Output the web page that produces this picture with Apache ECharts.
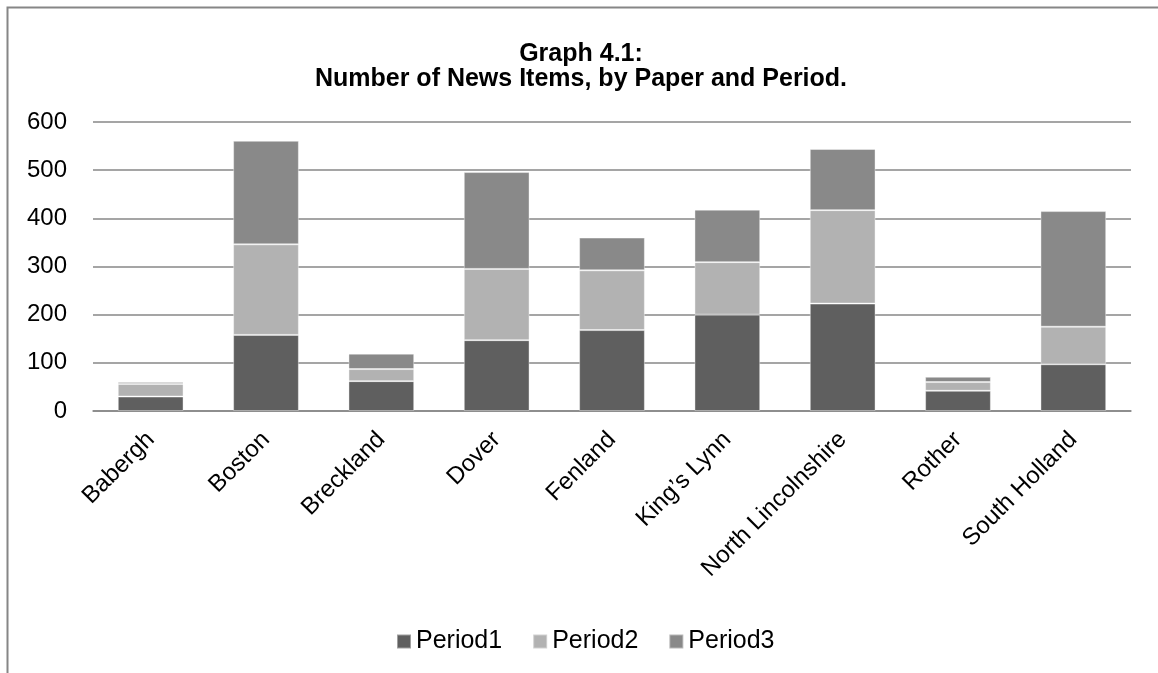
<!DOCTYPE html>
<html>
<head>
<meta charset="utf-8">
<title>Graph 4.1</title>
<script src="https://cdn.jsdelivr.net/npm/echarts@6/dist/echarts.min.js"></script>
<style>
  html, body { margin: 0; padding: 0; background: #ffffff; }
  #chart { width: 1158px; height: 673px; }
</style>
</head>
<body>
<div id="chart"></div>
<script>
// Papers along the x axis
const papers = ['Babergh', 'Boston', 'Breckland', 'Dover', 'Fenland', 'King\u2019s Lynn', 'North Lincolnshire', 'Rother', 'South Holland'];

// News items per paper, one array per period (stacked)
const period1 = [30, 158, 62, 147, 168, 200, 223, 42, 97];
const period2 = [26, 188, 25, 148, 124, 109, 194, 18, 78];
const period3 = [4, 215, 32, 201, 68, 109, 127, 11, 240];

const seriesNames = ['Period1', 'Period2', 'Period3'];
const seriesColors = ['#5f5f5f', '#b2b2b2', '#898989'];

// Value axis ticks
const yMin = 0;
const yMax = 600;
const yStep = 100;

const FONT = '"Liberation Sans", Arial, sans-serif';
const GRID_GREY = '#878787';

const chart = echarts.init(document.getElementById('chart'), null, { renderer: 'canvas' });

const values = [period1, period2, period3];

chart.setOption({
  backgroundColor: '#ffffff',
  animation: false,
  textStyle: { fontFamily: FONT },
  title: {
    text: 'Graph 4.1:\nNumber of News Items, by Paper and Period.',
    left: 581,
    top: 42,
    padding: 0,
    textAlign: 'center',
    textStyle: {
      fontFamily: FONT,
      fontSize: 25,
      fontWeight: 'bold',
      color: '#000000',
      lineHeight: 24.5
    }
  },
  legend: {
    data: seriesNames,
    left: 396,
    top: 629,
    padding: 0,
    icon: 'rect',
    itemWidth: 14,
    itemHeight: 14,
    itemGap: 30,
    textStyle: { fontFamily: FONT, fontSize: 25, color: '#000000' }
  },
  grid: {
    left: 93,
    right: 27,
    top: 122,
    bottom: 262,
    containLabel: false
  },
  xAxis: {
    type: 'category',
    data: papers,
    axisLine: { show: true, lineStyle: { color: GRID_GREY, width: 1.5 } },
    axisTick: { show: false },
    axisLabel: {
      interval: 0,
      rotate: 45,
      margin: 25,
      fontFamily: FONT,
      fontSize: 24,
      color: '#000000'
    }
  },
  yAxis: {
    type: 'value',
    min: yMin,
    max: yMax,
    interval: yStep,
    axisLine: { show: false },
    axisTick: { show: false },
    axisLabel: {
      margin: 26,
      fontFamily: FONT,
      fontSize: 24,
      color: '#000000'
    },
    splitLine: { show: true, lineStyle: { color: GRID_GREY, width: 1.5 } }
  },
  series: seriesNames.map((name, i) => ({
    name: name,
    type: 'bar',
    stack: 'total',
    data: values[i],
    barCategoryGap: '43%',
    itemStyle: {
      color: seriesColors[i],
      borderColor: 'rgba(255,255,255,0.4)',
      borderWidth: 1
    }
  })),
  graphic: [
    {
      type: 'polyline',
      silent: true,
      shape: { points: [[7.5, 673], [7.5, 7.5], [1158, 7.5]] },
      style: { stroke: '#868686', lineWidth: 2, fill: null }
    }
  ]
});
</script>
</body>
</html>
